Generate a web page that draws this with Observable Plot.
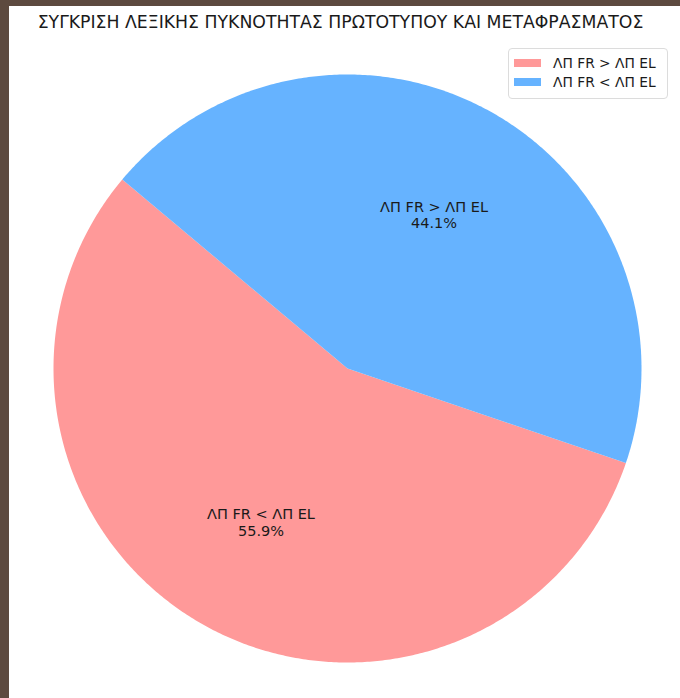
<!DOCTYPE html>
<html><head><meta charset="utf-8">
<script src="https://cdn.jsdelivr.net/npm/d3@7"></script>
<script src="https://cdn.jsdelivr.net/npm/@observablehq/plot@0.6"></script>
<style>
html,body{margin:0;padding:0;background:#5d4a3f;width:680px;height:698px;overflow:hidden}
#panel{position:absolute;left:9px;top:6px;width:671px;height:692px;background:#fff;font-family:"DejaVu Sans",sans-serif}
#title{position:absolute;left:0;top:6px;width:663px;text-align:center;font-size:17.3px;color:#1a1a1a;white-space:nowrap}
#chart{position:absolute;left:0;top:30px}
#legend{position:absolute;left:499px;top:42px;width:160px;height:51px;border:1px solid #dcdcdc;border-radius:4px;background:rgba(255,255,255,0.8);box-sizing:border-box;font-size:13.8px;color:#1a1a1a}
.row{position:absolute;left:5px;display:flex;align-items:center;white-space:nowrap}
.sw{width:27px;height:8px;margin-right:12px}
</style></head><body><div id="panel"><div id="title"></div><div id="chart"></div><div id="legend"></div></div>
<script>
// Data
const titleText = "ΣΥΓΚΡΙΣΗ ΛΕΞΙΚΗΣ ΠΥΚΝΟΤΗΤΑΣ ΠΡΩΤΟΤΥΠΟΥ ΚΑΙ ΜΕΤΑΦΡΑΣΜΑΤΟΣ";
const wedgeLabels = ["ΛΠ FR < ΛΠ EL", "ΛΠ FR > ΛΠ EL"];
const shares = [55.9, 44.1];
const colors = ["#ff9999", "#66b3ff"];
const legendLabels = ["ΛΠ FR > ΛΠ EL", "ΛΠ FR < ΛΠ EL"];
const startAngle = 140; // degrees, counter-clockwise from 3 o'clock

// Build wedge polygons from the shares
const total = d3.sum(shares);
const wedgeRows = [];
const labelRows = [];
let a0 = startAngle;
shares.forEach((v, i) => {
  const sweep = v / total * 360;
  const a1 = a0 + sweep;
  wedgeRows.push({k: wedgeLabels[i], x: 0, y: 0, c: colors[i]});
  const n = Math.ceil(sweep * 2);
  for (let j = 0; j <= n; j++) {
    const t = (a0 + sweep * j / n) * Math.PI / 180;
    wedgeRows.push({k: wedgeLabels[i], x: Math.cos(t), y: Math.sin(t), c: colors[i]});
  }
  const m = (a0 + sweep / 2) * Math.PI / 180;
  labelRows.push({x: 0.6 * Math.cos(m), y: 0.6 * Math.sin(m), t: wedgeLabels[i] + "\n" + v.toFixed(1) + "%"});
  a0 = a1;
});

const chart = Plot.plot({
  width: 671,
  height: 662,
  margin: 0,
  x: {domain: [-1, 1], range: [44, 632], axis: null},
  y: {domain: [-1, 1], range: [626, 38], axis: null},
  color: {type: "identity"},
  style: {fontFamily: "DejaVu Sans, sans-serif", background: "transparent"},
  marks: [
    Plot.line(wedgeRows, {x: "x", y: "y", z: "k", fill: "c", stroke: null, curve: "linear-closed"}),
    Plot.text(labelRows, {x: "x", y: "y", text: "t", fontSize: 14.5, fill: "#1a1a1a", lineHeight: 1.15})
  ]
});
document.getElementById("chart").appendChild(chart);
document.getElementById("title").textContent = titleText;

const lg = document.getElementById("legend");
legendLabels.forEach((l, i) => {
  const r = document.createElement("div");
  r.className = "row";
  r.style.top = (6 + i * 19) + "px";
  r.innerHTML = `<span class="sw" style="background:${colors[i]}"></span><span>${l}</span>`;
  lg.appendChild(r);
});
</script>
</body></html>
